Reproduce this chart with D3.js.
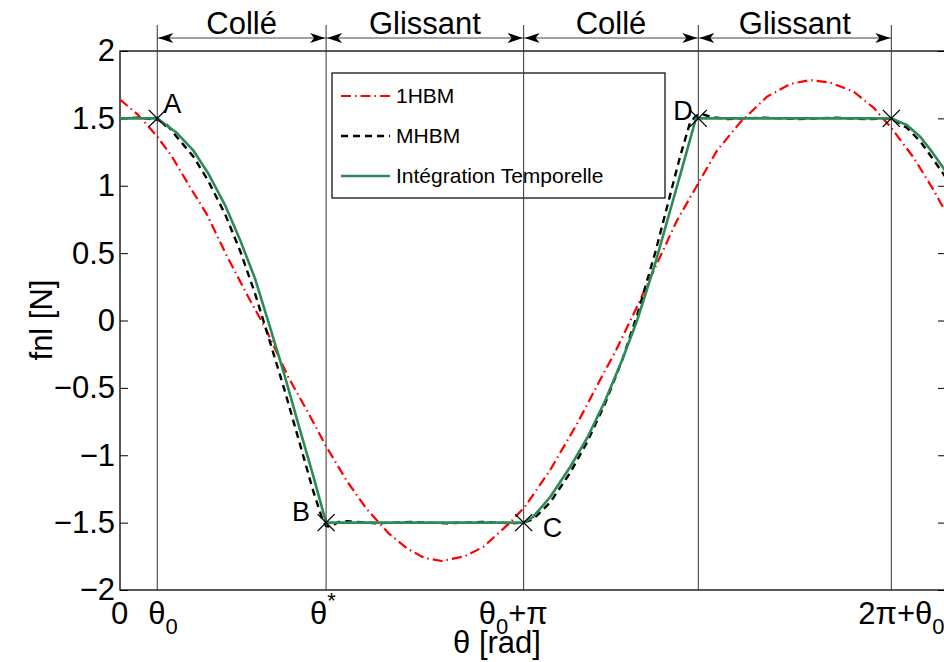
<!DOCTYPE html>
<html><head><meta charset="utf-8">
<script src="https://cdn.jsdelivr.net/npm/d3@7"></script>
<style>body{margin:0;background:#fff}svg{display:block}text{font-family:"Liberation Sans",Arial,sans-serif}</style>
</head><body>
<svg id="c" width="944" height="662"></svg>
<script>
// ---- data ----
const yTicks = [-2,-1.5,-1,-0.5,0,0.5,1,1.5,2];
const keyNames = ['A','B','C','D',''];
const keyTheta = [0.319,1.764,3.455,4.95,6.602];
const keyValue = [1.5,-1.5,-1.5,1.5,1.5];
const phaseNames = ['Collé','Glissant','Collé','Glissant'];
const xTickValues = [0,0.319,1.764,3.455,4.95,6.602];
const seriesNames = ['1HBM','MHBM','Intégration Temporelle'];

const theta1HBM = [0,0.15,0.314,0.443,0.599,0.742,0.914,1.113,1.241,1.441,1.627,1.755,1.941,2.112,2.3,2.455,2.6,2.754,2.95,3.11,3.339,3.467,3.682,3.91,4.11,4.252,4.424,4.595,4.766,4.938,5.109,5.308,5.537,5.736,5.908,6.079,6.278,6.449,6.592,6.792,6.963,7.07];
const val1HBM   = [1.64,1.53,1.37,1.22,0.99,0.79,0.48,0.15,-0.05,-0.42,-0.71,-0.92,-1.19,-1.40,-1.58,-1.69,-1.76,-1.785,-1.75,-1.68,-1.5,-1.38,-1.11,-0.77,-0.44,-0.21,0.10,0.42,0.74,1.0,1.26,1.47,1.66,1.755,1.785,1.765,1.70,1.58,1.44,1.21,0.97,0.80];

const thetaMHBM = [0,0.15,0.319,0.40,0.488,0.625,0.753,0.899,1.027,1.156,1.284,1.413,1.541,1.652,1.73,1.764,1.80,1.87,1.95,2.2,2.5,2.8,3.1,3.35,3.455,3.536,3.682,3.853,4.0,4.15,4.3,4.426,4.58,4.795,4.88,4.93,4.99,5.06,5.2,5.5,5.8,6.1,6.4,6.602,6.735,6.849,6.949,7.07];
const valMHBM   = [1.5,1.505,1.49,1.455,1.36,1.22,1.04,0.79,0.52,0.20,-0.16,-0.53,-0.92,-1.26,-1.47,-1.525,-1.53,-1.495,-1.49,-1.505,-1.495,-1.505,-1.495,-1.505,-1.5,-1.475,-1.35,-1.13,-0.90,-0.62,-0.29,0.04,0.50,1.22,1.47,1.52,1.53,1.51,1.495,1.505,1.495,1.505,1.495,1.5,1.43,1.33,1.21,1.06];

const thetaIT = [0,0.319,0.488,0.625,0.753,0.899,1.027,1.156,1.284,1.413,1.541,1.652,1.764,3.455,3.536,3.682,3.853,4.0,4.15,4.3,4.426,4.58,4.795,4.93,6.602,6.735,6.849,6.949,7.049,7.07];
const valIT   = [1.5,1.5,1.391,1.265,1.095,0.857,0.60,0.31,-0.05,-0.42,-0.813,-1.147,-1.5,-1.5,-1.458,-1.31,-1.087,-0.87,-0.60,-0.29,0.00,0.42,1.08,1.5,1.5,1.451,1.364,1.253,1.13,1.10];

// ---- drawing ----
const svg = d3.select('#c');
const L=120, R=946, T=51, B=590;
const x = d3.scaleLinear().domain([0,7.07]).range([L,R]);
const y = d3.scaleLinear().domain([-2,2]).range([B,T]);

svg.append('defs').append('clipPath').attr('id','clip')
  .append('rect').attr('x',L).attr('y',T).attr('width',R-L).attr('height',B-T);

// axes
const yAxisL = d3.axisLeft(y).tickValues(yTicks).tickSize(-8).tickPadding(5)
  .tickFormat(d=> (d<0?'\u2212':'') + Math.abs(d));
const gy = svg.append('g').attr('transform',`translate(${L},0)`).call(yAxisL);
gy.selectAll('text').attr('font-size',31).attr('fill','#000').attr('font-family','Liberation Sans, Arial, sans-serif');
gy.select('.domain').remove();
const yAxisR = d3.axisRight(y).tickValues(yTicks).tickSize(-8).tickFormat('');
const gyr = svg.append('g').attr('transform',`translate(${R},0)`).call(yAxisR);
gyr.select('.domain').remove();
svg.selectAll('.tick line').attr('stroke','#000');

const xAxis = d3.axisBottom(x).tickValues(xTickValues).tickSize(0).tickFormat('');
const gx = svg.append('g').attr('transform',`translate(0,${B})`).call(xAxis);
gx.select('.domain').remove();

// frame
svg.append('rect').attr('x',L).attr('y',T).attr('width',R-L).attr('height',B-T)
  .attr('fill','none').attr('stroke','#000').attr('stroke-width',1.3);

// x tick labels (TeX-like)
const fs=31, sub=22;
function xlabel(v, dx, parts){
  const t = svg.append('text').attr('x', x(v)+dx).attr('y', 624).attr('font-size',fs).attr('fill','#000');
  parts.forEach(p=>{
    const ts = t.append('tspan').text(p.t);
    if(p.s==='sub') ts.attr('font-size',sub).attr('dy',10);
    else if(p.s==='sup') ts.attr('font-size',sub).attr('dy',-16);
    else if(p.back) ts.attr('dy',p.back);
  });
  return t;
}
xlabel(xTickValues[0], -9, [{t:'0'}]);
xlabel(xTickValues[1], -9, [{t:'\u03b8'},{t:'0',s:'sub'}]);
xlabel(xTickValues[2], -16, [{t:'\u03b8'},{t:'*',s:'sup'}]);
xlabel(xTickValues[3], -45, [{t:'\u03b8'},{t:'0',s:'sub'},{t:'+\u03c0',back:-10}]);
xlabel(xTickValues[5], -33, [{t:'2\u03c0+\u03b8'},{t:'0',s:'sub'}]);

// axis titles
svg.append('text').attr('x',497).attr('y',653).attr('text-anchor','middle').attr('font-size',31).text('\u03b8 [rad]');
svg.append('text').attr('transform','translate(52,320) rotate(-90)').attr('text-anchor','middle').attr('font-size',31).text('fnl [N]');

// legend box (no fill)
const lg = svg.append('g');
lg.append('rect').attr('x',332).attr('y',73).attr('width',333).attr('height',125)
  .attr('fill','none').attr('stroke','#000').attr('stroke-width',1.2);

// curves
const line = d3.line().x(d=>x(d[0])).y(d=>y(d[1]));
const gc = svg.append('g').attr('clip-path','url(#clip)');
const styles = [
  {th:theta1HBM, v:val1HBM, stroke:'#ff0000', w:2.2, dash:'10,4,1.5,4'},
  {th:thetaMHBM, v:valMHBM, stroke:'#000', w:2.4, dash:'7,5'},
  {th:thetaIT, v:valIT, stroke:'#2e8b57', w:2.6, dash:null}
];
styles.forEach(s=>{
  gc.append('path').datum(d3.zip(s.th, s.v)).attr('d',line)
    .attr('fill','none').attr('stroke',s.stroke).attr('stroke-width',s.w)
    .attr('stroke-dasharray',s.dash).attr('stroke-linejoin','round');
});

// legend entries
const legY = [96,136,176];
styles.forEach((s,i)=>{
  lg.append('line').attr('x1',341).attr('x2',390).attr('y1',legY[i]).attr('y2',legY[i])
    .attr('stroke',s.stroke).attr('stroke-width',s.w).attr('stroke-dasharray',s.dash);
  lg.append('text').attr('x',396).attr('y',legY[i]).attr('dy','0.35em').attr('font-size',21).text(seriesNames[i]);
});

// vertical boundary lines
keyTheta.forEach(t=>{
  svg.append('line').attr('x1',x(t)).attr('x2',x(t)).attr('y1',25).attr('y2',B)
    .attr('stroke','#333').attr('stroke-width',1);
});

// phase arrows
const ay = 38;
function head(px, dir){
  const p = `M${px},${ay} L${px-dir*15},${ay-5} L${px-dir*11},${ay} L${px-dir*15},${ay+5} Z`;
  svg.append('path').attr('d',p).attr('fill','#000');
}
phaseNames.forEach((n,i)=>{
  const a = x(keyTheta[i]), b = x(keyTheta[i+1]);
  svg.append('line').attr('x1',a).attr('x2',b).attr('y1',ay).attr('y2',ay).attr('stroke','#444').attr('stroke-width',1);
  head(a+1,-1); head(b-1,1);
  svg.append('text').attr('x',(a+b)/2).attr('y',34).attr('text-anchor','middle').attr('font-size',31).text(n);
});

// key point markers (x) and letters
const labelOffsets = [[6,-5],[-34,-2],[19,14],[-25,2],[0,0]];
keyTheta.forEach((t,i)=>{
  const cx = x(t), cy = y(keyValue[i]), h=8.5;
  svg.append('path').attr('d',`M${cx-h},${cy-h}L${cx+h},${cy+h}M${cx-h},${cy+h}L${cx+h},${cy-h}`)
    .attr('stroke','#000').attr('stroke-width',1.4);
  if(keyNames[i]) svg.append('text').attr('x',cx+labelOffsets[i][0]).attr('y',cy+labelOffsets[i][1])
    .attr('font-size',27).text(keyNames[i]);
});
</script>
</body></html>
